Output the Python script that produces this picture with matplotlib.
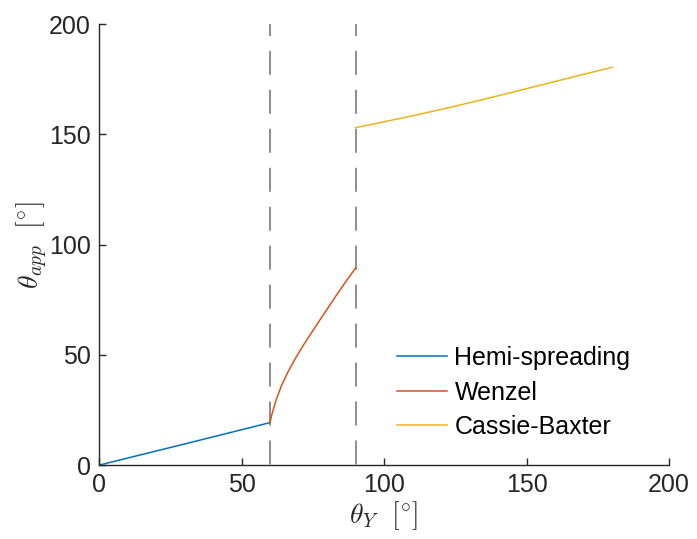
import numpy as np
import matplotlib.pyplot as plt

plt.rcParams['font.family'] = ['Liberation Sans', 'DejaVu Sans']
plt.rcParams['mathtext.fontset'] = 'cm'

# values
hemi_x = [0, 30, 60]
hemi_y = [0, 9.6, 19.3]

wenzel_x = [60, 60.5, 61.1, 62.2, 64.0, 66.3, 68.7, 71.6, 74.5, 78.7, 83.4, 87.0, 90]
wenzel_y = [19.3, 22.3, 25.0, 29.8, 36.0, 42.3, 48.0, 54.2, 60.0, 68.2, 77.3, 84.0, 89.4]

cassie_x = [90, 99.8, 111.5, 123.2, 134.8, 145.4, 157.1, 168.8, 180]
cassie_y = [153.1, 155.7, 158.9, 162.3, 165.9, 169.3, 173.1, 176.9, 180.5]

transitions = [60, 90]

fig = plt.figure(figsize=(6.97, 5.39), dpi=100)
ax = fig.add_axes([0.142, 0.137, 0.818, 0.818])

for xv in transitions:
    ax.plot([xv, xv], [200, 0], color='#6e6e6e', linestyle=(7.9, (15.7, 9.8)), linewidth=1.1, zorder=1)

ax.plot(hemi_x, hemi_y, color='#0072BD', linewidth=1.1, label='Hemi-spreading')
ax.plot(wenzel_x, wenzel_y, color='#D95319', linewidth=1.1, label='Wenzel')
ax.plot(cassie_x, cassie_y, color='#EDB120', linewidth=1.1, label='Cassie-Baxter')

ax.set_xlim(0, 200)
ax.set_ylim(0, 200)
ax.set_xticks([0, 50, 100, 150, 200])
ax.set_yticks([0, 50, 100, 150, 200])

for s in ['top', 'right']:
    ax.spines[s].set_visible(False)
for s in ['left', 'bottom']:
    ax.spines[s].set_color('#262626')
    ax.spines[s].set_linewidth(1.0)

ax.tick_params(direction='in', length=5, width=1.0, colors='#262626', labelsize=18, pad=6)

ax.set_xlabel(r'$\theta_Y\ \ [^{\circ}]$', fontsize=20, color='#262626', labelpad=1)
ax.set_ylabel(r'$\theta_{app}\ \ [^{\circ}]$', fontsize=20, color='#262626', labelpad=-1)

leg = ax.legend(loc='upper left', bbox_to_anchor=(397 / 697, 1 - 346 / 539),
                bbox_transform=fig.transFigure, frameon=False, fontsize=18,
                handlelength=2.0, handletextpad=0.3, labelspacing=0.42,
                borderpad=0, borderaxespad=0)

fig.savefig('out.png', dpi=100)
